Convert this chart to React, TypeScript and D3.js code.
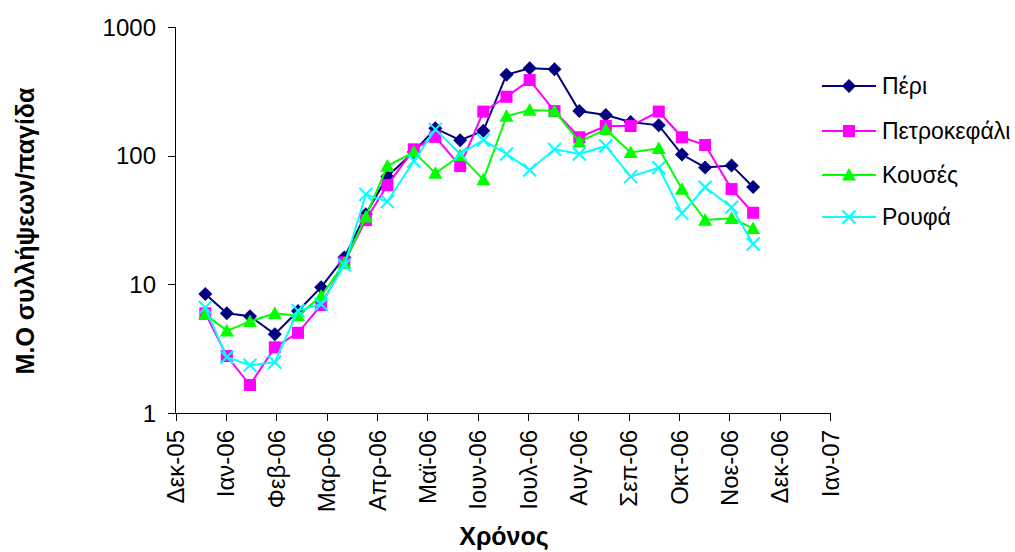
import React from "react";
import * as d3 from "d3";

// Sampling dates (twice a month) and mean catch per trap for each site
const sampleDates = [
  "2005-12-21", "2006-01-03", "2006-01-17", "2006-02-01", "2006-02-15", "2006-03-01",
  "2006-03-15", "2006-03-28", "2006-04-10", "2006-04-26", "2006-05-09", "2006-05-24",
  "2006-06-07", "2006-06-21", "2006-07-05", "2006-07-20", "2006-08-04", "2006-08-20",
  "2006-09-04", "2006-09-21", "2006-10-05", "2006-10-19", "2006-11-04", "2006-11-17",
];

const periValues = [8.4, 5.95, 5.65, 4.1, 6.2, 9.5, 16.2, 35, 69, 107, 163, 132, 156, 426, 478, 469, 222, 207, 183, 172, 102, 81, 84, 57];
const petrokefaliValues = [5.95, 2.77, 1.65, 3.24, 4.2, 6.9, 14.8, 31.6, 59, 112, 140, 83, 220, 287, 387, 222, 139, 170, 170, 220, 139, 121, 55, 36];
const kousesValues = [5.85, 4.35, 5.15, 5.95, 5.7, 8.1, 14.6, 33.5, 83, 107, 73, 100, 65, 203, 226, 222, 128, 160, 106, 114, 55, 31.6, 32.6, 27.2];
const roufaValues = [6.6, 2.71, 2.35, 2.48, 6.25, 7.0, 14.1, 50, 44, 91, 160, 103, 132, 103, 77.4, 112, 103, 119, 68.7, 80.6, 35.6, 56.8, 39.7, 20.6];

const seriesNames = ["Πέρι", "Πετροκεφάλι", "Κουσές", "Ρουφά"];
const seriesColors = ["#000080", "#FF00FF", "#00FF00", "#00FFFF"];
const seriesMarkers = ["diamond", "square", "triangle", "cross"];

const xTickLabels = [
  "Δεκ-05", "Ιαν-06", "Φεβ-06", "Μαρ-06", "Απρ-06", "Μαϊ-06", "Ιουν-06",
  "Ιουλ-06", "Αυγ-06", "Σεπ-06", "Οκτ-06", "Νοε-06", "Δεκ-06", "Ιαν-07",
];
const yTickValues = [1, 10, 100, 1000];

const axisStart = "2005-12-03";
const monthStepDays = 30.42;

const W = 1015;
const H = 552;
const FONT = "'Liberation Sans', Arial, sans-serif";

const DAY = 86400000;
const t0 = new Date(axisStart).getTime();
const xTicks = xTickLabels.map((_, i) => new Date(t0 + i * monthStepDays * DAY));

const x = d3
  .scaleTime()
  .domain([xTicks[0], xTicks[xTicks.length - 1]])
  .range([175.5, 830]);
const y = d3.scaleLog().domain([1, 1000]).range([413, 27]);

function Marker({ kind, cx, cy, color }: { kind: string; cx: number; cy: number; color: string }) {
  if (kind === "diamond") {
    const r = 7;
    return <path d={`M${cx},${cy - r}L${cx + r},${cy}L${cx},${cy + r}L${cx - r},${cy}Z`} fill={color} />;
  }
  if (kind === "square") {
    const r = 6;
    return <rect x={cx - r} y={cy - r} width={2 * r} height={2 * r} fill={color} />;
  }
  if (kind === "triangle") {
    const r = 7;
    return <path d={`M${cx},${cy - r}L${cx + r},${cy + r * 0.8}L${cx - r},${cy + r * 0.8}Z`} fill={color} />;
  }
  const r = 6.5;
  return (
    <path
      d={`M${cx - r},${cy - r}L${cx + r},${cy + r}M${cx - r},${cy + r}L${cx + r},${cy - r}`}
      stroke={color}
      strokeWidth={2}
      fill="none"
    />
  );
}

export default function App() {
  const dates = sampleDates.map((d) => new Date(d));
  const allSeries = [periValues, petrokefaliValues, kousesValues, roufaValues];
  const line = d3
    .line<[Date, number]>()
    .x((d) => x(d[0]))
    .y((d) => y(d[1]));

  const legendY = [86, 131, 175, 217];

  return (
    <svg
      width={W}
      height={H}
      style={{ position: "absolute", left: 0, top: 0, background: "#fff" }}
      fontFamily={FONT}
    >
      {/* y axis */}
      <line x1={175.5} x2={175.5} y1={y(1000)} y2={y(1)} stroke="#000" strokeWidth={1} />
      {yTickValues.map((v) => (
        <g key={v}>
          <line x1={168} x2={175.5} y1={Math.round(y(v)) + 0.5} y2={Math.round(y(v)) + 0.5} stroke="#000" />
          <text x={156} y={y(v)} dy="0.36em" textAnchor="end" fontSize={24} fill="#000">
            {v}
          </text>
        </g>
      ))}

      {/* x axis */}
      <line x1={x(xTicks[0])} x2={x(xTicks[xTicks.length - 1])} y1={413.5} y2={413.5} stroke="#000" />
      {xTicks.map((t, i) => (
        <g key={i}>
          <line x1={Math.round(x(t)) + 0.5} x2={Math.round(x(t)) + 0.5} y1={413} y2={421} stroke="#000" />
          <text
            transform={`translate(${x(t)},430) rotate(-90)`}
            dy="0.36em"
            textAnchor="end"
            fontSize={24}
            fill="#000"
          >
            {xTickLabels[i]}
          </text>
        </g>
      ))}

      {/* series */}
      {allSeries.map((vals, si) => {
        const pts = dates.map((d, i) => [d, vals[i]] as [Date, number]);
        return (
          <g key={si}>
            <path d={line(pts) || ""} fill="none" stroke={seriesColors[si]} strokeWidth={2} />
            {pts.map((p, i) => (
              <Marker key={i} kind={seriesMarkers[si]} cx={x(p[0])} cy={y(p[1])} color={seriesColors[si]} />
            ))}
          </g>
        );
      })}

      {/* legend */}
      {seriesNames.map((name, si) => (
        <g key={name}>
          <line x1={822} x2={876} y1={legendY[si]} y2={legendY[si]} stroke={seriesColors[si]} strokeWidth={2} />
          <Marker kind={seriesMarkers[si]} cx={849} cy={legendY[si]} color={seriesColors[si]} />
          <text x={882} y={legendY[si]} dy="0.36em" fontSize={23} fill="#000">
            {name}
          </text>
        </g>
      ))}

      {/* axis titles */}
      <text
        transform={`translate(25,231) rotate(-90)`}
        dy="0.36em"
        textAnchor="middle"
        fontSize={25}
        fontWeight="bold"
        fill="#000"
      >
        Μ.Ο συλλήψεων/παγίδα
      </text>
      <text x={504} y={545} textAnchor="middle" fontSize={25} fontWeight="bold" fill="#000">
        Χρόνος
      </text>
    </svg>
  );
}
